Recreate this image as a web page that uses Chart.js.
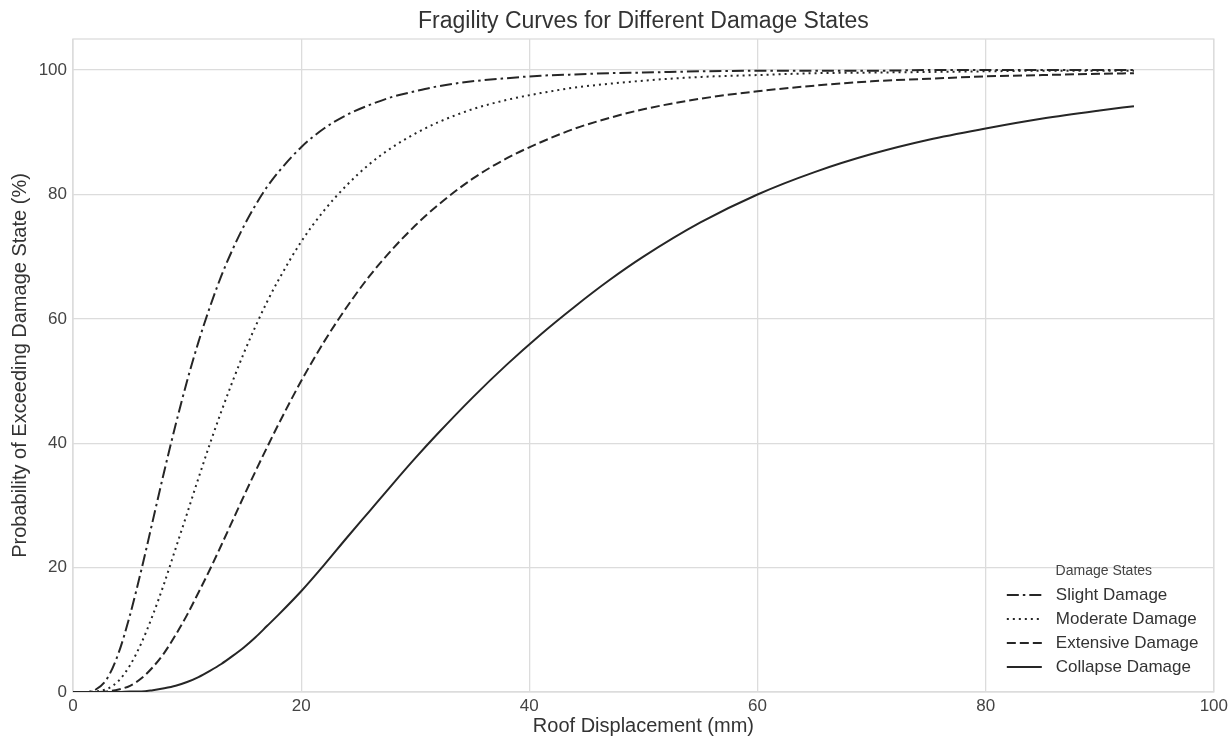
<!DOCTYPE html>
<html>
<head>
<meta charset="utf-8">
<script src="https://cdn.jsdelivr.net/npm/chart.js@4.4.1/dist/chart.umd.min.js"></script>
<style>
  html, body { margin: 0; padding: 0; background: #fff; }
</style>
</head>
<body>
<canvas id="fragility" width="1232" height="737"></canvas>
<script>
// roof displacement samples (mm)
const displacement = [0, 1, 2, 3, 4, 5, 6, 7, 8, 9, 10, 11, 12, 13, 14, 15, 16, 17, 18, 20,
  22, 24, 26, 28, 30, 32, 35, 38, 41, 44, 47, 50, 55, 60, 65, 70, 75, 80, 85, 90, 93];

// probability of exceeding each damage state (%)
const slight = [0, 0.0, 0.4, 2.2, 6.3, 12.4, 19.7, 27.6, 35.5, 43.0, 50.0, 56.3, 61.9, 66.9, 71.2, 75.0, 78.3, 81.2, 83.6, 87.6,
  90.6, 92.8, 94.4, 95.7, 96.6, 97.4, 98.2, 98.7, 99.1, 99.3, 99.5, 99.6, 99.8, 99.9, 99.9, 99.9, 100.0, 100.0, 100.0, 100.0, 100.0];
const moderate = [0, 0.0, 0.1, 0.5, 1.8, 4.3, 7.9, 12.4, 17.5, 23.1, 28.7, 34.4, 39.9, 45.1, 50.0, 54.6, 58.8, 62.7, 66.2, 72.4,
  77.4, 81.5, 84.9, 87.6, 89.8, 91.6, 93.7, 95.2, 96.3, 97.2, 97.8, 98.3, 98.9, 99.2, 99.5, 99.6, 99.7, 99.8, 99.9, 99.9, 99.9];
const extensive = [0, 0.0, 0.0, 0.1, 0.4, 1.0, 2.2, 4.0, 6.3, 9.2, 12.4, 16.0, 19.7, 23.6, 27.6, 31.6, 35.5, 39.3, 43.0, 50.0,
  56.3, 61.9, 66.9, 71.2, 75.0, 78.3, 82.5, 85.8, 88.4, 90.6, 92.3, 93.7, 95.4, 96.6, 97.5, 98.2, 98.6, 99.0, 99.2, 99.4, 99.5];
const collapse = [0, 0.0, 0.0, 0.0, 0.0, 0.1, 0.1, 0.3, 0.6, 1.0, 1.6, 2.4, 3.4, 4.5, 5.8, 7.2, 8.8, 10.6, 12.4, 16.2,
  20.4, 24.8, 29.1, 33.4, 37.6, 41.6, 47.3, 52.6, 57.5, 62.0, 66.2, 70.0, 75.5, 80.0, 83.6, 86.5, 88.8, 90.6, 92.2, 93.5, 94.2];

const stateNames = ["Slight Damage", "Moderate Damage", "Extensive Damage", "Collapse Damage"];
const xTicks = [0, 20, 40, 60, 80, 100];
const yTicks = [0, 20, 40, 60, 80, 100];

const FONT = '"Liberation Sans", Arial, Helvetica, sans-serif';
const LINE = "#262626";
const GRID = "#dcdcdc";

const dashes = [
  [12, 4, 2.5, 4],  // dash-dot
  [2, 4],           // dotted
  [9, 4],           // dashed
  []                // solid
];

function series(values) {
  return displacement.map((d, i) => ({ x: d, y: values[i] }));
}

// outline round the whole plot area, like a boxed axes
const frame = {
  id: "frame",
  beforeDatasetsDraw(chart) {
    const { ctx, chartArea: a } = chart;
    ctx.save();
    ctx.strokeStyle = GRID;
    ctx.lineWidth = 1.3;
    ctx.strokeRect(a.left, a.top, a.right - a.left, a.bottom - a.top);
    ctx.restore();
  }
};

// title centred over the plot area rather than the canvas
const plotTitle = {
  id: "plotTitle",
  afterDraw(chart) {
    const { ctx, chartArea: a } = chart;
    ctx.save();
    ctx.font = "23px " + FONT;
    ctx.fillStyle = "#333";
    ctx.textAlign = "center";
    ctx.textBaseline = "middle";
    ctx.fillText("Fragility Curves for Different Damage States", (a.left + a.right) / 2, 22);
    ctx.restore();
  }
};

// legend in the lower right corner, no box
const stateLegend = {
  id: "stateLegend",
  afterDraw(chart) {
    const { ctx, chartArea: a } = chart;
    const textX = a.right - 158;
    ctx.save();
    ctx.textBaseline = "middle";
    ctx.fillStyle = "#444";
    ctx.font = "14px " + FONT;
    ctx.textAlign = "center";
    ctx.fillText("Damage States", a.right - 110, a.bottom - 121);
    ctx.textAlign = "left";
    ctx.font = "17px " + FONT;
    chart.data.datasets.forEach((ds, i) => {
      const y = a.bottom - 97 + i * 24;
      ctx.strokeStyle = ds.borderColor;
      ctx.lineWidth = ds.borderWidth;
      ctx.setLineDash(ds.borderDash);
      ctx.beginPath();
      ctx.moveTo(textX - 49, y);
      ctx.lineTo(textX - 14, y);
      ctx.stroke();
      ctx.setLineDash([]);
      ctx.fillStyle = "#333";
      ctx.fillText(ds.label, textX, y);
    });
    ctx.restore();
  }
};

const values = [slight, moderate, extensive, collapse];

new Chart(document.getElementById("fragility").getContext("2d"), {
  type: "line",
  data: {
    datasets: values.map((v, i) => ({
      label: stateNames[i],
      data: series(v),
      borderColor: LINE,
      borderWidth: 2,
      borderDash: dashes[i],
      pointRadius: 0,
      cubicInterpolationMode: "monotone",
      fill: false
    }))
  },
  options: {
    responsive: false,
    animation: false,
    layout: { padding: { top: 39, right: 17, bottom: 0, left: 0 } },
    plugins: {
      legend: { display: false },
      tooltip: { enabled: false },
      title: { display: false }
    },
    scales: {
      x: {
        type: "linear",
        min: 0,
        max: 100,
        afterBuildTicks: s => { s.ticks = xTicks.map(v => ({ value: v })); },
        afterFit: s => { s.height = 45; },
        ticks: { color: "#444", padding: 4, font: { family: FONT, size: 17 } },
        grid: { color: GRID, lineWidth: 1.3, drawTicks: false },
        border: { display: false },
        title: {
          display: true,
          text: "Roof Displacement (mm)",
          color: "#333",
          font: { family: FONT, size: 20 },
          padding: { top: 0, bottom: -1 }
        }
      },
      y: {
        type: "linear",
        min: 0,
        max: 105,
        afterBuildTicks: s => { s.ticks = yTicks.map(v => ({ value: v })); },
        afterFit: s => { s.width = 73; },
        ticks: { color: "#444", padding: 6, font: { family: FONT, size: 17 } },
        grid: { color: GRID, lineWidth: 1.3, drawTicks: false },
        border: { display: false },
        title: {
          display: true,
          text: "Probability of Exceeding Damage State (%)",
          color: "#333",
          font: { family: FONT, size: 20 },
          padding: { top: 8, bottom: 0 }
        }
      }
    }
  },
  plugins: [frame, plotTitle, stateLegend]
});
</script>
</body>
</html>
